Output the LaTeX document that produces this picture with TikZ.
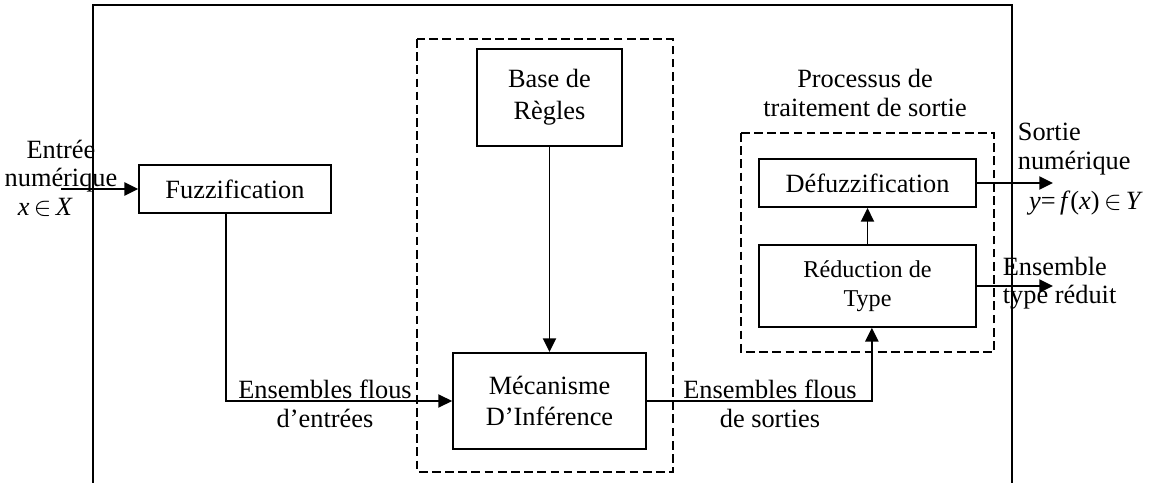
\documentclass[tikz,border=0pt]{standalone}
\usepackage{fontspec}
\setmainfont{Liberation Serif}
\usetikzlibrary{arrows.meta}

\begin{document}
\begin{tikzpicture}[x=0.016cm, y=-0.016cm, line width=.8pt,
    box/.style={draw, align=center, inner sep=0pt, font=\fontsize{12}{14.5}\selectfont},
    zone/.style={draw, dash pattern=on 4pt off 2pt},
    tag/.style={align=center, inner sep=0pt, font=\fontsize{12}{13}\selectfont},
    arr/.style={-{Triangle[length=.22cm,width=.21cm]}}]
      \useasboundingbox (0,0) rectangle (1159,483);

      \draw (93,483) -- (93,5) -- (1012,5) -- (1012,483);
      \draw[zone] (417,39) rectangle (673,472);
      \draw[zone] (741,133) rectangle (994,352);

      \node[box, minimum width=3.07cm, minimum height=.77cm] (fuzz) at (235,189) {Fuzzification};
      \node[box, minimum width=2.32cm, minimum height=1.55cm] (base) at (549.5,97.5) {Base de\\Règles};
      \node[box, minimum width=3.09cm, minimum height=1.54cm] (meca) at (549.5,401) {Mécanisme\\D’Inférence};
      \node[box, minimum width=3.47cm, minimum height=.77cm] (defuzz) at (867.5,183) {Défuzzification};
      \node[box, minimum width=3.47cm, minimum height=1.31cm, font=\fontsize{11}{13}\selectfont] (reduc) at (867.5,286) {Réduction de\\Type};

      \coordinate (in) at (61,189);
      \coordinate (out1) at (1053,183);
      \coordinate (out2) at (1053,286);

      \node[tag] (entree) at (61,178) {Entrée\\numérique\\\textit{x}\,$\in$\,\textit{X}\hspace*{.5cm}};
      \node[tag] (efe) at (325,404) {Ensembles flous\\d’entrées};
      \node[tag] (efs) at (770,404) {Ensembles flous\\de sorties};
      \node[tag] (proc) at (865,93) {Processus de\\traitement de sortie};
      \node[tag, align=left, anchor=west] (sortie) at (1017,149) {Sortie\\numérique};
      \node[tag] (fx) at (1086,203) {\textit{y}=\,\textit{f}(\textit{x})\,$\in$\,\textit{Y}};
      \node[tag, align=left, anchor=west] (ens) at (1002,283) {Ensemble\\type réduit};

      \draw[arr] (in) -- (fuzz.west);
      \draw[arr] ([xshift=-.14cm]fuzz.south) |- (meca.west);
      \draw[arr] (base) -- (meca);
      \draw[arr] (meca.east) -| ([xshift=.07cm]reduc.south);
      \draw[arr] (reduc.north) -- (defuzz.south);
      \draw[arr] (defuzz.east) -- (out1);
      \draw[arr] (reduc.east) -- (out2);
    \end{tikzpicture}
\end{document}
